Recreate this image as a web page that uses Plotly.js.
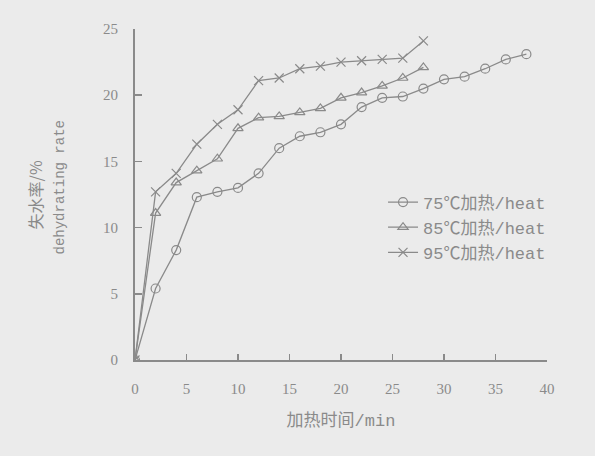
<!DOCTYPE html>
<html>
<head>
<meta charset="utf-8">
<script src="https://cdn.plot.ly/plotly-3.0.1.min.js"></script>
<style>html,body{margin:0;padding:0;background:#ebebeb;}</style>
</head>
<body>
<div id="chart" style="width:595px;height:456px;"></div>
<script>
const x75 = [0, 2, 4, 6, 8, 10, 12, 14, 16, 18, 20, 22, 24, 26, 28, 30, 32, 34, 36, 38];
const y75 = [0, 5.4, 8.3, 12.3, 12.7, 13.0, 14.1, 16.0, 16.9, 17.2, 17.8, 19.1, 19.8, 19.9, 20.5, 21.2, 21.4, 22.0, 22.7, 23.1];
const x85 = [0, 2, 4, 6, 8, 10, 12, 14, 16, 18, 20, 22, 24, 26, 28];
const y85 = [0, 11.1, 13.4, 14.3, 15.2, 17.5, 18.3, 18.4, 18.7, 19.0, 19.8, 20.2, 20.7, 21.3, 22.1];
const x95 = [0, 2, 4, 6, 8, 10, 12, 14, 16, 18, 20, 22, 24, 26, 28];
const y95 = [0, 12.7, 14.1, 16.3, 17.8, 18.9, 21.1, 21.3, 22.0, 22.2, 22.5, 22.6, 22.7, 22.8, 24.1];
const names = ['75℃加热/heat', '85℃加热/heat', '95℃加热/heat'];
const xTicks = [0, 5, 10, 15, 20, 25, 30, 35, 40];
const yTicks = [0, 5, 10, 15, 20, 25];
const xTitle = '加热时间/min';
const yTitleZh = '失水率/%';
const yTitleEn = 'dehydrating rate';

const grey = '#8a8a8a';
const mk = (x, y, name, sym) => ({
  x: x, y: y, name: name, type: 'scatter', mode: 'lines+markers',
  line: {color: grey, width: 1.3},
  marker: {symbol: sym, size: 9, color: grey, line: {color: grey, width: 1.2}}
});
const data = [
  mk(x75, y75, names[0], 'circle-open'),
  mk(x85, y85, names[1], 'triangle-up-open'),
  mk(x95, y95, names[2], 'x-thin-open')
];
const tickFont = {family: 'Liberation Serif, DejaVu Serif, serif', size: 15, color: grey};
const layout = {
  width: 595, height: 456,
  paper_bgcolor: '#ebebeb', plot_bgcolor: '#ebebeb',
  margin: {l: 135, r: 48, t: 29, b: 96},
  showlegend: true,
  legend: {
    x: 0.602, y: 0.53, xanchor: 'left', yanchor: 'top',
    bgcolor: 'rgba(0,0,0,0)',
    font: {family: 'Liberation Mono, Noto Sans CJK SC, monospace', size: 17, color: grey},
    tracegroupgap: 0, itemwidth: 30
  },
  xaxis: {
    range: [0, 40], tickvals: xTicks, ticktext: xTicks.map(String),
    showgrid: false, zeroline: false, showline: true, linecolor: grey, linewidth: 2,
    ticks: 'inside', ticklen: 6, tickwidth: 1.5, tickcolor: grey,
    tickfont: tickFont, ticklabelstandoff: 14,
    title: {text: xTitle, font: {family: 'Liberation Mono, Noto Sans CJK SC, monospace', size: 17, color: grey}, standoff: 18}
  },
  yaxis: {
    range: [0, 25], tickvals: yTicks, ticktext: yTicks.map(String),
    showgrid: false, zeroline: false, showline: true, linecolor: grey, linewidth: 2,
    ticks: 'inside', ticklen: 7, tickwidth: 1.5, tickcolor: grey,
    tickfont: tickFont, ticklabelstandoff: 12
  },
  annotations: [
    {text: yTitleZh, xref: 'paper', yref: 'paper', x: -0.243, y: 0.5, textangle: -90,
     showarrow: false, xanchor: 'center', yanchor: 'middle',
     font: {family: 'Noto Sans CJK SC, serif', size: 16, color: grey}},
    {text: yTitleEn, xref: 'paper', yref: 'paper', x: -0.183, y: 0.52, textangle: -90,
     showarrow: false, xanchor: 'center', yanchor: 'middle',
     font: {family: 'Liberation Mono, monospace', size: 14, color: grey}}
  ]
};
Plotly.newPlot('chart', data, layout, {displayModeBar: false, staticPlot: true});
</script>
</body>
</html>
